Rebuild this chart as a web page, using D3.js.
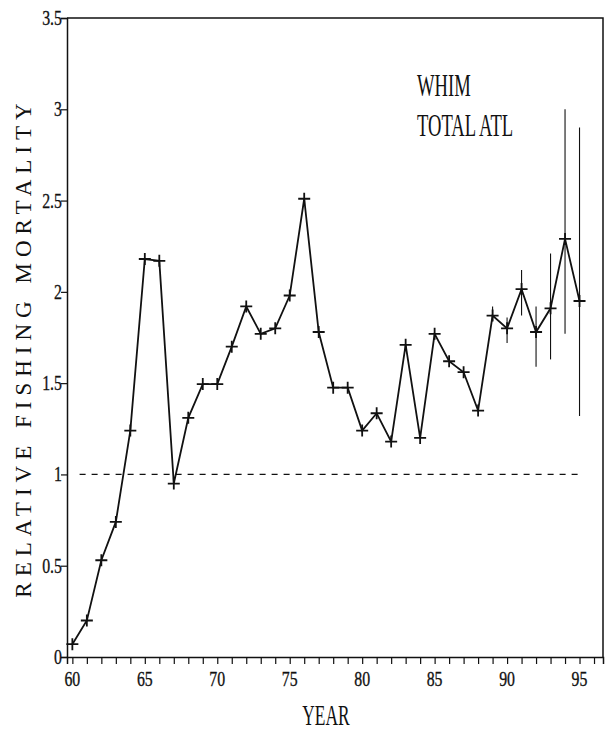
<!DOCTYPE html>
<html>
<head>
<meta charset="utf-8">
<script src="https://cdn.jsdelivr.net/npm/d3@7"></script>
<style>
  body { margin: 0; background: #fff; }
</style>
</head>
<body>
<div id="chart"></div>
<script>
// data
var years = [60, 61, 62, 63, 64, 65, 66, 67, 68, 69, 70, 71, 72, 73, 74, 75, 76, 77,
             78, 79, 80, 81, 82, 83, 84, 85, 86, 87, 88, 89, 90, 91, 92, 93, 94, 95];
var mortality = [0.07, 0.20, 0.53, 0.74, 1.24, 2.18, 2.17, 0.95, 1.31, 1.495, 1.495, 1.70,
                 1.92, 1.77, 1.80, 1.98, 2.51, 1.78, 1.475, 1.475, 1.24, 1.335, 1.18, 1.71,
                 1.20, 1.77, 1.62, 1.56, 1.35, 1.87, 1.80, 2.015, 1.78, 1.91, 2.29, 1.95];
var errYears = [89, 90, 91, 92, 93, 94, 95];
var errUpper = [1.92, 1.86, 2.12, 1.92, 2.21, 3.00, 2.90];
var errLower = [1.84, 1.72, 1.87, 1.59, 1.63, 1.77, 1.32];
var yTicks = [0, 0.5, 1, 1.5, 2, 2.5, 3, 3.5];
var yTickLabels = ["0", "0.5", "1", "1.5", "2", "2.5", "3", "3.5"];
var xLabelYears = [60, 65, 70, 75, 80, 85, 90, 95];
var refLevel = 1;

var width = 605, height = 733;
var margin = {left: 67, right: 2, top: 18, bottom: 76};
var serif = "'Liberation Serif', 'DejaVu Serif', serif";

var svg = d3.select("#chart").append("svg")
    .attr("width", width)
    .attr("height", height)
    .style("font-family", serif);

var x = d3.scaleLinear().domain([59.63, 96.62]).range([margin.left, width - margin.right]);
var y = d3.scaleLinear().domain([0, 3.5]).range([height - margin.bottom, margin.top]);

var ink = "#111";

// frame: top and right
svg.append("path")
    .attr("d", `M${x.range()[0]},${y(3.5)}H${x.range()[1]}V${y(0)}`)
    .attr("fill", "none").attr("stroke", ink).attr("stroke-width", 1.5);

// y axis
var yAxis = svg.append("g")
    .attr("transform", `translate(${margin.left},0)`)
    .call(d3.axisLeft(y).tickValues(yTicks).tickSize(6).tickFormat(""));
yAxis.select(".domain").attr("stroke", ink).attr("stroke-width", 1.5);
yAxis.selectAll("line").attr("stroke", ink).attr("stroke-width", 1.2);

// condensed text helper
function label(tx, ty, sx, size, anchor, str) {
  return svg.append("text")
    .attr("transform", `translate(${tx},${ty}) scale(${sx},1)`)
    .attr("text-anchor", anchor)
    .style("font-family", serif)
    .style("font-size", size + "px")
    .attr("fill", ink)
    .text(str);
}

yTicks.forEach(function (v, i) {
  label(margin.left - 5, y(v) + 7, 0.72, 22, "end", yTickLabels[i])
    .attr("stroke", ink).attr("stroke-width", 0.35);
});

// x axis, minor tick each year
var xAxis = svg.append("g")
    .attr("transform", `translate(0,${y(0)})`)
    .call(d3.axisBottom(x).tickValues(d3.range(60, 97)).tickSize(7).tickFormat(""));
xAxis.select(".domain").attr("stroke", ink).attr("stroke-width", 1.5);
xAxis.selectAll("line").attr("stroke", ink).attr("stroke-width", 1.2);

xLabelYears.forEach(function (v) {
  label(x(v), y(0) + 29, 0.72, 22, "middle", v)
    .attr("stroke", ink).attr("stroke-width", 0.35);
});

// axis titles
label(x(77.5), 725, 0.6, 29, "middle", "YEAR");

svg.append("text")
  .attr("transform", `translate(31,${(100 + 595) / 2}) rotate(-90)`)
  .attr("text-anchor", "middle")
  .style("font-family", serif)
  .style("font-size", "23px")
  .style("letter-spacing", "6px")
  .attr("fill", ink)
  .text("RELATIVE FISHING MORTALITY");

// annotation
label(417, 96, 0.6, 31, "start", "WHIM");
label(417, 136, 0.6, 31, "start", "TOTAL ATL");

// reference line at 1
svg.append("line")
  .attr("x1", x(60.5)).attr("x2", x(95))
  .attr("y1", y(refLevel)).attr("y2", y(refLevel))
  .attr("stroke", ink).attr("stroke-width", 1.2)
  .attr("stroke-dasharray", "6,6");

// error bars
errYears.forEach(function (yr, i) {
  svg.append("line")
    .attr("x1", x(yr)).attr("x2", x(yr))
    .attr("y1", y(errUpper[i])).attr("y2", y(errLower[i]))
    .attr("stroke", ink).attr("stroke-width", 1.1);
});

// series line
var pts = years.map(function (yr, i) { return [yr, mortality[i]]; });
svg.append("path")
  .datum(pts)
  .attr("fill", "none")
  .attr("stroke", ink)
  .attr("stroke-width", 1.8)
  .attr("d", d3.line().x(function (d) { return x(d[0]); }).y(function (d) { return y(d[1]); }));

// plus markers
svg.append("g").selectAll("path")
  .data(pts)
  .join("path")
  .attr("d", function (d) {
    var cx = x(d[0]), cy = y(d[1]);
    return `M${cx - 6},${cy}H${cx + 6}M${cx},${cy - 6}V${cy + 6}`;
  })
  .attr("stroke", ink)
  .attr("stroke-width", 1.8);
</script>
</body>
</html>
